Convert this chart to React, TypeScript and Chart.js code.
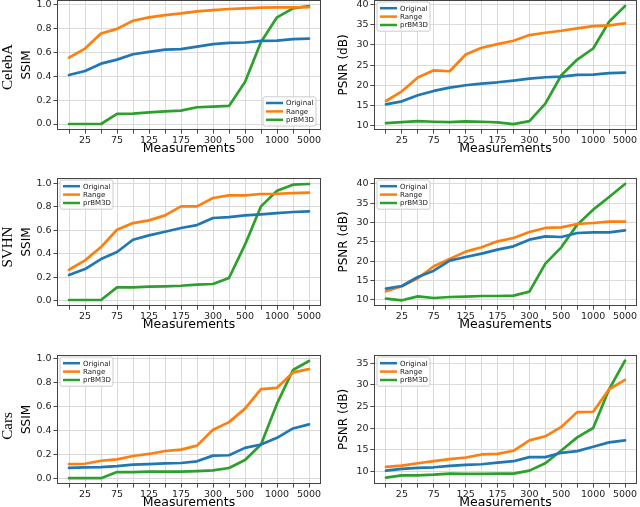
import React, { useEffect, useRef } from 'react';
import { Chart, registerables } from 'chart.js';

Chart.register(...registerables);

// ---------- data ----------
const xTickLabels = ['', '25', '', '75', '', '125', '', '175', '', '300', '', '500', '', '1000', '', '5000'];
const seriesNames = ['Original', 'Range', 'prBM3D'];
const seriesColors = ['#1f77b4', '#ff7f0e', '#2ca02c'];

const ssimTicks = [0, 0.2, 0.4, 0.6, 0.8, 1.0];
const psnrTicksTo40 = [10, 15, 20, 25, 30, 35, 40];
const psnrTicksTo35 = [10, 15, 20, 25, 30, 35];

const celebaSsimOriginal = [0.409, 0.443, 0.504, 0.538, 0.583, 0.602, 0.622, 0.625, 0.647, 0.667, 0.678, 0.681, 0.695, 0.697, 0.709, 0.714];
const celebaSsimRange = [0.555, 0.63, 0.756, 0.795, 0.863, 0.891, 0.91, 0.924, 0.941, 0.952, 0.961, 0.966, 0.972, 0.975, 0.975, 0.977];
const celebaSsimPrBM3D = [0, 0, 0, 0.084, 0.087, 0.098, 0.106, 0.112, 0.14, 0.146, 0.151, 0.35, 0.686, 0.891, 0.966, 0.986];

const celebaPsnrOriginal = [15.29, 16.03, 17.52, 18.6, 19.42, 20.0, 20.41, 20.74, 21.16, 21.65, 21.98, 22.15, 22.56, 22.64, 22.98, 23.14];
const celebaPsnrRange = [16.12, 18.5, 21.9, 23.7, 23.47, 27.6, 29.26, 30.17, 31.0, 32.4, 32.98, 33.47, 34.05, 34.63, 34.8, 35.3];
const celebaPsnrPrBM3D = [10.66, 10.9, 11.16, 10.99, 10.9, 11.07, 10.99, 10.83, 10.41, 11.16, 15.45, 22.48, 26.36, 29.09, 35.7, 39.6];

const svhnSsimOriginal = [0.218, 0.269, 0.354, 0.414, 0.518, 0.555, 0.586, 0.618, 0.643, 0.703, 0.711, 0.725, 0.734, 0.745, 0.754, 0.759];
const svhnSsimRange = [0.263, 0.343, 0.456, 0.603, 0.66, 0.683, 0.725, 0.802, 0.802, 0.873, 0.895, 0.895, 0.907, 0.909, 0.915, 0.918];
const svhnSsimPrBM3D = [0.006, 0.006, 0.006, 0.113, 0.113, 0.119, 0.122, 0.127, 0.136, 0.142, 0.193, 0.476, 0.802, 0.935, 0.986, 0.992];

const svhnPsnrOriginal = [12.85, 13.54, 15.88, 17.52, 20.11, 21.06, 21.93, 22.96, 23.83, 25.56, 26.42, 26.25, 27.29, 27.46, 27.46, 27.98];
const svhnPsnrRange = [12.16, 13.46, 15.53, 18.65, 20.55, 22.45, 23.57, 25.13, 25.99, 27.55, 28.59, 28.76, 29.62, 29.88, 30.22, 30.22];
const svhnPsnrPrBM3D = [10.26, 9.83, 10.86, 10.43, 10.69, 10.78, 10.95, 10.95, 11.04, 12.07, 19.33, 23.57, 29.45, 33.34, 36.62, 40.0];

const carsSsimOriginal = [0.087, 0.09, 0.093, 0.101, 0.113, 0.118, 0.124, 0.127, 0.141, 0.189, 0.192, 0.254, 0.282, 0.338, 0.417, 0.451];
const carsSsimRange = [0.118, 0.121, 0.146, 0.158, 0.186, 0.203, 0.228, 0.239, 0.273, 0.406, 0.47, 0.583, 0.746, 0.758, 0.887, 0.915];
const carsSsimPrBM3D = [0, 0, 0, 0.051, 0.051, 0.054, 0.054, 0.054, 0.059, 0.065, 0.085, 0.152, 0.282, 0.625, 0.907, 0.983];

const carsPsnrOriginal = [10.23, 10.62, 10.85, 11.0, 11.32, 11.55, 11.7, 12.09, 12.4, 13.33, 13.33, 14.33, 14.72, 15.73, 16.73, 17.2];
const carsPsnrRange = [11.08, 11.39, 11.93, 12.4, 12.86, 13.25, 13.95, 14.1, 14.8, 17.2, 18.13, 20.29, 23.7, 23.78, 28.96, 31.13];
const carsPsnrPrBM3D = [8.61, 9.15, 9.15, 9.3, 9.54, 9.46, 9.46, 9.54, 9.54, 10.23, 11.93, 14.87, 17.89, 20.05, 28.96, 35.54];

const rowLabels = ['CelebA', 'SVHN', 'Cars'];

// ---------- layout ----------
const FONT = '"DejaVu Sans", sans-serif';
const Y_W = 50;
const X_H = 30;
const PAD_T = 6;

type Box = { l: number; r: number; t: number; b: number };
type Panel = {
  yTitle: string;
  series: number[][];
  yTicks: number[];
  yMin: number;
  yMax: number;
  decimals: number;
  legend: 'lr' | 'ul';
  box: Box;
};

const colL = { l: 57, r: 321 };
const colR = { l: 374, r: 637 };
const rows = [
  { t: 0, b: 129.5 },
  { t: 178, b: 306 },
  { t: 355, b: 484 },
];

const panels: Panel[] = [
  { yTitle: 'SSIM', series: [celebaSsimOriginal, celebaSsimRange, celebaSsimPrBM3D], yTicks: ssimTicks, yMin: -0.05, yMax: 1.036, decimals: 1, legend: 'lr', box: { ...colL, ...rows[0] } },
  { yTitle: 'PSNR (dB)', series: [celebaPsnrOriginal, celebaPsnrRange, celebaPsnrPrBM3D], yTicks: psnrTicksTo40, yMin: 8.95, yMax: 41.07, decimals: 0, legend: 'ul', box: { ...colR, ...rows[0] } },
  { yTitle: 'SSIM', series: [svhnSsimOriginal, svhnSsimRange, svhnSsimPrBM3D], yTicks: ssimTicks, yMin: -0.045, yMax: 1.043, decimals: 1, legend: 'ul', box: { ...colL, ...rows[1] } },
  { yTitle: 'PSNR (dB)', series: [svhnPsnrOriginal, svhnPsnrRange, svhnPsnrPrBM3D], yTicks: psnrTicksTo40, yMin: 8.35, yMax: 41.55, decimals: 0, legend: 'ul', box: { ...colR, ...rows[1] } },
  { yTitle: 'SSIM', series: [carsSsimOriginal, carsSsimRange, carsSsimPrBM3D], yTicks: ssimTicks, yMin: -0.049, yMax: 1.033, decimals: 1, legend: 'ul', box: { ...colL, ...rows[2] } },
  { yTitle: 'PSNR (dB)', series: [carsPsnrOriginal, carsPsnrRange, carsPsnrPrBM3D], yTicks: psnrTicksTo35, yMin: 7.15, yMax: 36.85, decimals: 0, legend: 'ul', box: { ...colR, ...rows[2] } },
];

const rowLabelPos = [
  { x: 7, y: 67 },
  { x: 7, y: 247 },
  { x: 7, y: 426 },
];

// ---------- plugins ----------
const framePlugin = {
  id: 'frame',
  afterDatasetsDraw(chart: any) {
    const { ctx, chartArea: a } = chart;
    ctx.save();
    ctx.strokeStyle = '#444';
    ctx.lineWidth = 1;
    const l = Math.round(a.left) + 0.5;
    const t = Math.round(a.top) + 0.5;
    const r = Math.round(a.right) - 0.5;
    const b = Math.round(a.bottom) - 0.5;
    ctx.strokeRect(l, t, r - l, b - t);
    ctx.restore();
  },
};

const boxLegend = {
  id: 'boxLegend',
  afterDraw(chart: any, _args: any, opts: any) {
    const { ctx, chartArea: a } = chart;
    const ds = chart.data.datasets;
    const fs = 7;
    const rowH = 8.4;
    const handle = 17;
    const gap = 3;
    const pad = 2;
    ctx.save();
    ctx.font = `${fs}px ${FONT}`;
    const tw = Math.max(...ds.map((d: any) => ctx.measureText(d.label).width));
    const w = pad + handle + gap + tw + pad + 1;
    const h = pad * 2 + rowH * ds.length;
    const x = opts.corner === 'lr' ? a.right - 5 - w : a.left + 3;
    const y = opts.corner === 'lr' ? a.bottom - 4 - h : a.top + 2;
    ctx.beginPath();
    const rr = 2;
    ctx.moveTo(x + rr, y);
    ctx.arcTo(x + w, y, x + w, y + h, rr);
    ctx.arcTo(x + w, y + h, x, y + h, rr);
    ctx.arcTo(x, y + h, x, y, rr);
    ctx.arcTo(x, y, x + w, y, rr);
    ctx.closePath();
    ctx.fillStyle = 'rgba(255,255,255,0.8)';
    ctx.fill();
    ctx.strokeStyle = '#cccccc';
    ctx.lineWidth = 1;
    ctx.stroke();
    ds.forEach((d: any, i: number) => {
      const cy = y + pad + rowH * (i + 0.5);
      ctx.beginPath();
      ctx.moveTo(x + pad + 1, cy);
      ctx.lineTo(x + pad + 1 + handle, cy);
      ctx.strokeStyle = d.borderColor;
      ctx.lineWidth = 2.5;
      ctx.stroke();
      ctx.fillStyle = '#222';
      ctx.textBaseline = 'middle';
      ctx.textAlign = 'left';
      ctx.fillText(d.label, x + pad + 1 + handle + gap, cy + 0.5);
    });
    ctx.restore();
  },
};

// ---------- components ----------
function ChartPanel({ p }: { p: Panel }) {
  const ref = useRef<HTMLCanvasElement>(null);
  const padR = p.box.r > 600 ? 3 : 10;
  const width = Math.round(p.box.r - p.box.l + Y_W + padR);
  const height = Math.round(p.box.b - p.box.t + PAD_T + X_H);

  useEffect(() => {
    const gridColor = '#dadada';
    const chart = new Chart(ref.current as HTMLCanvasElement, {
      type: 'line',
      data: {
        datasets: p.series.map((vals, k) => ({
          label: seriesNames[k],
          data: vals.map((y, i) => ({ x: i, y })),
          borderColor: seriesColors[k],
          backgroundColor: seriesColors[k],
          borderWidth: 2.7,
          pointRadius: 0,
          tension: 0,
          borderJoinStyle: 'round',
          borderCapStyle: 'round',
        })),
      },
      options: {
        responsive: false,
        animation: false,
        devicePixelRatio: 1,
        layout: { padding: { left: 0, right: padR, top: PAD_T, bottom: 0 } },
        plugins: {
          legend: { display: false },
          tooltip: { enabled: false },
          boxLegend: { corner: p.legend },
        } as any,
        scales: {
          x: {
            type: 'linear',
            min: -0.75,
            max: 15.75,
            afterBuildTicks: (s: any) => {
              s.ticks = xTickLabels.map((_, i) => ({ value: i }));
            },
            afterFit: (s: any) => {
              s.height = X_H;
              s.paddingLeft = 0;
              s.paddingRight = 0;
            },
            ticks: {
              autoSkip: false,
              maxRotation: 0,
              minRotation: 0,
              padding: 1,
              color: '#222',
              font: { family: FONT, size: 9.5 },
              callback: (v: any) => xTickLabels[Math.round(Number(v))] ?? '',
            },
            grid: { color: gridColor, lineWidth: 1, tickLength: 3.5, tickColor: '#444', drawTicks: true },
            border: { display: false },
            title: {
              display: true,
              text: 'Measurements',
              color: '#000',
              font: { family: FONT, size: 12.5 },
              padding: { top: 0, bottom: 4 },
            },
          },
          y: {
            type: 'linear',
            min: p.yMin,
            max: p.yMax,
            afterBuildTicks: (s: any) => {
              s.ticks = p.yTicks.map((v) => ({ value: v }));
            },
            afterFit: (s: any) => {
              s.width = Y_W;
              s.paddingTop = 0;
              s.paddingBottom = 0;
            },
            ticks: {
              padding: 2,
              color: '#222',
              font: { family: FONT, size: 9.5 },
              callback: (v: any) => Number(v).toFixed(p.decimals),
            },
            grid: { color: gridColor, lineWidth: 1, tickLength: 3.5, tickColor: '#444', drawTicks: true },
            border: { display: false },
            title: {
              display: true,
              text: p.yTitle,
              color: '#000',
              font: { family: FONT, size: 12 },
              padding: { top: 13, bottom: 0 },
            },
          },
        },
      } as any,
      plugins: [framePlugin, boxLegend],
    });
    return () => chart.destroy();
  }, []);

  return (
    <canvas
      ref={ref}
      width={width}
      height={height}
      style={{
        position: 'absolute',
        left: p.box.l - Y_W,
        top: p.box.t - PAD_T,
        width,
        height,
      }}
    />
  );
}

export default function App() {
  return (
    <div
      style={{
        position: 'absolute',
        left: 0,
        top: 0,
        width: 640,
        height: 507,
        background: '#fff',
        overflow: 'hidden',
      }}
    >
      {panels.map((p, i) => (
        <ChartPanel key={i} p={p} />
      ))}
      {rowLabels.map((txt, i) => (
        <div
          key={txt}
          style={{
            position: 'absolute',
            left: rowLabelPos[i].x,
            top: rowLabelPos[i].y,
            transform: 'translate(-50%, -50%) rotate(-90deg)',
            fontFamily: '"Liberation Serif", "DejaVu Serif", serif',
            fontSize: 15,
            color: '#000',
            whiteSpace: 'nowrap',
            lineHeight: 1,
            zIndex: 2,
          }}
        >
          {txt}
        </div>
      ))}
    </div>
  );
}
